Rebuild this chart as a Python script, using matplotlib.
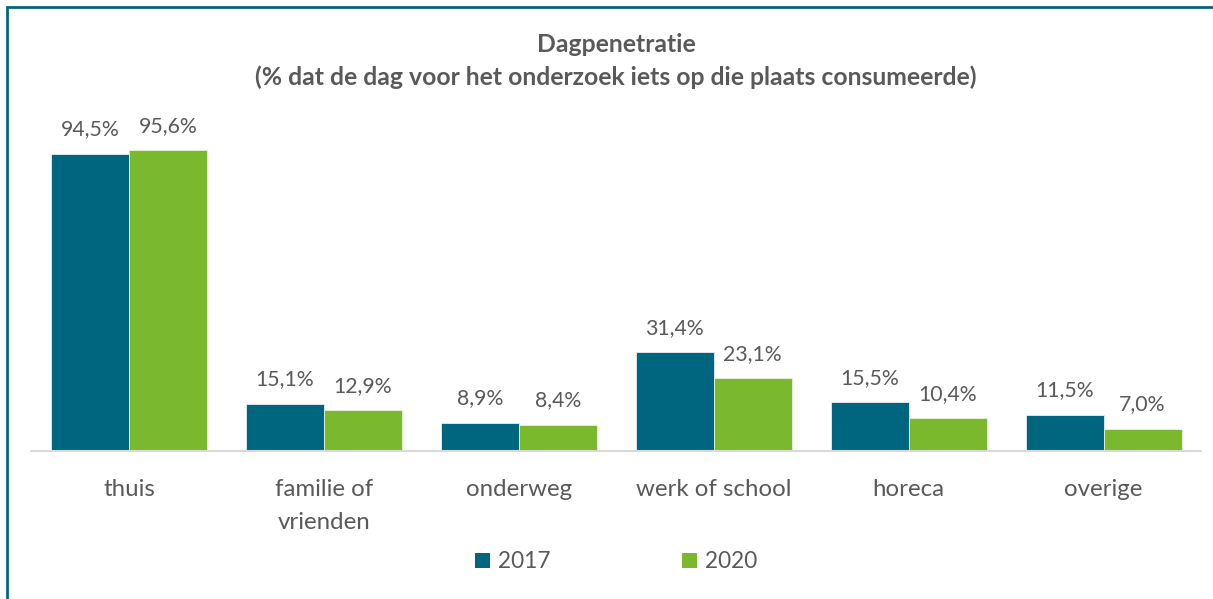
import numpy as np
import matplotlib
matplotlib.use("Agg")
import matplotlib.pyplot as plt
from matplotlib.patches import Rectangle, Patch

# Data
categories = ["thuis", "familie of\nvrienden", "onderweg", "werk of school", "horeca", "overige"]
values_2017 = [94.5, 15.1, 8.9, 31.4, 15.5, 11.5]
values_2020 = [95.6, 12.9, 8.4, 23.1, 10.4, 7.0]
series_names = ["2017", "2020"]

# Style
TEAL = "#006680"
GREEN = "#7AB82E"
TEXT = "#595959"
W, H, DPI = 1213, 599, 100

plt.rcParams["font.family"] = ["Lato", "DejaVu Sans"]

fig = plt.figure(figsize=(W / DPI, H / DPI), dpi=DPI)
ax = fig.add_axes([31.5 / W, 1 - 451 / H, (1201 - 31.5) / W, 314.5 / H])

x = np.arange(len(categories))
bw = 0.4
b1 = ax.bar(x - bw / 2, values_2017, bw, color=TEAL, edgecolor="#e8eef0", linewidth=0.6)
b2 = ax.bar(x + bw / 2, values_2020, bw, color=GREEN, edgecolor="#e8f2de", linewidth=0.6)

fmt = lambda v: f"{v:.1f}%".replace(".", ",")
for bars, vals in ((b1, values_2017), (b2, values_2020)):
    for rect, v in zip(bars, vals):
        ax.text(rect.get_x() + rect.get_width() / 2, v + 7.8, fmt(v),
                ha="center", va="center", fontsize=15.3, color=TEXT)

ax.set_xlim(-0.5, len(categories) - 0.5)
ax.set_ylim(0, 100)
ax.set_xticks(x)
ax.set_xticklabels(categories, fontsize=17.3, color=TEXT, linespacing=1.7, va="top")
ax.tick_params(axis="x", length=0, pad=20)
ax.set_yticks([])
for s in ("top", "right", "left"):
    ax.spines[s].set_visible(False)
ax.spines["bottom"].set_color("#d9d9d9")
ax.spines["bottom"].set_linewidth(1.5)

fig.text(616 / W, 1 - 45 / H, "Dagpenetratie", ha="center", va="center",
         fontsize=17.8, fontweight="bold", color=TEXT)
fig.text(616 / W, 1 - 77 / H, "(% dat de dag voor het onderzoek iets op die plaats consumeerde)",
         ha="center", va="center", fontsize=17.8, fontweight="bold", color=TEXT)

handles = [Patch(facecolor=TEAL), Patch(facecolor=GREEN)]
fig.legend(handles, series_names, loc="center", bbox_to_anchor=(616 / W, 1 - 562 / H),
           ncol=2, frameon=False, fontsize=16.3, labelcolor=TEXT,
           handlelength=0.68, handleheight=0.68, handletextpad=0.35, columnspacing=5.8)

# Teal frame around the chart (runs off the right and bottom edges)
fig.patches.append(Rectangle((6.5 / W, -0.1), 1.2, 1 - 7.5 / H + 0.1,
                             transform=fig.transFigure, fill=False,
                             edgecolor="#00667f", linewidth=2))

fig.savefig("out.png", dpi=DPI)
